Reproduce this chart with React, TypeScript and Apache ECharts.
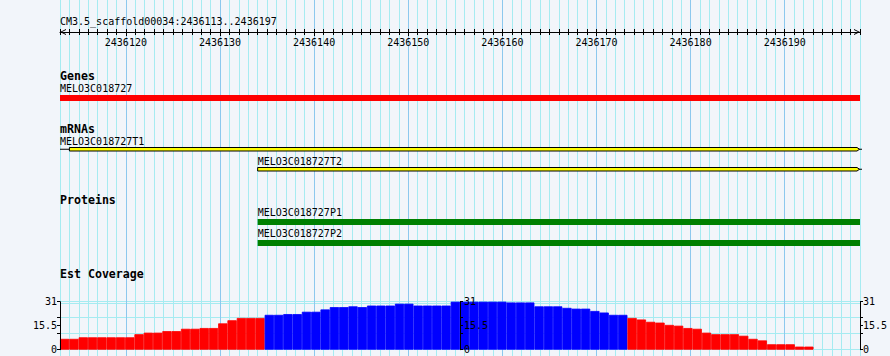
import React, { useEffect, useRef } from "react";
import * as echarts from "echarts";

// ---------------- data ----------------
const scaffoldName = "CM3.5_scaffold00034";
const viewStart = 2436113;
const viewEnd = 2436198; // end of last shown base (2436197)
const majorTicks = [2436120, 2436130, 2436140, 2436150, 2436160, 2436170, 2436180, 2436190];
const trackTitles = ["Genes", "mRNAs", "Proteins", "Est Coverage"];

const geneNames = ["MELO3C018727"];
const geneStarts = [2436113];
const geneEnds = [2436198];

const mrnaNames = ["MELO3C018727T1", "MELO3C018727T2"];
const mrnaStarts = [2436113, 2436134];
const mrnaExonStarts = [2436114, 2436134];
const mrnaEnds = [2436198, 2436198];

const proteinNames = ["MELO3C018727P1", "MELO3C018727P2"];
const proteinStarts = [2436134, 2436134];
const proteinEnds = [2436198, 2436198];

const coverage = [
  7, 7, 8, 8, 8, 8, 8, 8, 10, 11,
  11, 12, 12, 13.5, 13.5, 14, 14, 17, 19, 20.5,
  20.5, 20.5, 22.5, 22.5, 23, 23, 24.5, 24.5, 26, 27.5,
  27.5, 28, 27.5, 28.5, 28.5, 28.5, 29.7, 29.7, 28.5, 28.5,
  28.5, 28.5, 31, 31, 31, 31, 31, 31, 30.5, 30.5,
  30.5, 28, 28, 28, 27, 26.5, 26.5, 25, 24, 22.5,
  22.5, 20.5, 19.5, 18, 17.5, 16, 15.5, 14, 13.5, 11,
  10, 10, 10, 9, 7, 6, 3.5, 3.5, 3.5, 2,
  2, 0, 0, 0, 0, 0,
];
const coverageMax = 31;
const coverageLabelStep = 15.5;
const coverageExtraLine = [29.7];
const cdsBins = [22, 60];

// ---------------- layout / style ----------------
const GRID_LEFT = 60;
const GRID_W = 800;
const FONT = '"DejaVu Sans Mono", monospace';
const BG = "#f2f5fa";
const MINOR = "#a6ebf1";
const MAJOR = "#8cc8ee";
const RED = "#ff0000";
const BLUE = "#0000ff";
const GREEN = "#008000";
const YELLOW = "#ffff00";

const ROW = {
  titleY: 21,
  rulerY: 32,
  headers: [76, 128.7, 200, 274.2],
  geneLabel: [88],
  geneBar: [95],
  geneH: 6,
  mrnaLabel: [141, 161],
  mrnaBar: [147.5, 167.5],
  mrnaH: 3.5,
  protLabel: [212.5, 233.5],
  protBar: [219, 240],
  protH: 6,
  covTop: 301.7,
  covH: 48,
};

const ARROW = "path://M0,10L5,0L10,10L8.4,10L5,3.2L1.6,10Z";
const blackLine = { color: "#000", width: 1 };
const labelText = (text: string, x: number, y: number) => ({
  type: "text",
  x,
  y,
  style: { text, font: `10px ${FONT}`, fill: "#000", align: "left", verticalAlign: "middle" },
});

function buildOption(): any {
  const bpBase = {
    type: "value",
    gridIndex: 0,
    min: viewStart,
    max: viewEnd,
    position: "top",
    offset: -ROW.rulerY,
  };
  const covBase = { type: "value", gridIndex: 1, min: 0, max: coverageMax };
  const covLabel = {
    fontFamily: FONT,
    fontSize: 10,
    color: "#000",
    formatter: (v: number) => String(v),
  };

  return {
    animation: false,
    backgroundColor: BG,
    textStyle: { fontFamily: FONT },
    grid: [
      { left: GRID_LEFT, top: 0, width: GRID_W, height: 356, outerBoundsMode: "none", containLabel: false },
      { left: GRID_LEFT, top: ROW.covTop, width: GRID_W, height: ROW.covH, outerBoundsMode: "none", containLabel: false },
    ],
    xAxis: [
      {
        ...bpBase,
        interval: 1,
        axisLine: {
          show: true,
          onZero: false,
          lineStyle: blackLine,
          symbol: [ARROW, ARROW],
          symbolSize: [6, 6],
          symbolOffset: [3, -3],
        },
        axisTick: { show: true, length: 3, inside: false, lineStyle: blackLine },
        axisLabel: { show: false },
        splitLine: { show: true, lineStyle: { color: MINOR, width: 1 } },
      },
      {
        ...bpBase,
        interval: 1,
        axisLine: { show: false, onZero: false },
        axisTick: { show: true, length: 3, inside: true, lineStyle: blackLine },
        axisLabel: { show: false },
        splitLine: { show: false },
      },
      {
        ...bpBase,
        axisLine: { show: false, onZero: false },
        axisTick: { show: true, length: 4, inside: true, customValues: majorTicks, lineStyle: blackLine },
        axisLabel: {
          show: true,
          inside: true,
          customValues: majorTicks,
          margin: 10,
          verticalAlign: "middle",
          fontFamily: FONT,
          fontSize: 10,
          color: "#000",
          formatter: (v: number) => String(v),
        },
        splitLine: { show: true, lineStyle: { color: MAJOR, width: 1 } },
      },
      {
        type: "category",
        gridIndex: 1,
        show: false,
        boundaryGap: true,
        axisLine: { onZero: false },
        data: coverage.map((_, i) => String(i)),
      },
    ],
    yAxis: [
      { type: "value", gridIndex: 0, min: 0, max: 1, show: false, axisLine: { onZero: false } },
      // left
      {
        ...covBase,
        position: "left",
        offset: 0,
        z: 10,
        interval: coverageLabelStep,
        axisLine: { show: true, onZero: false, lineStyle: blackLine },
        axisTick: { show: true, length: 3, lineStyle: blackLine },
        axisLabel: { ...covLabel, margin: 3 },
        splitLine: { show: false },
      },
      {
        ...covBase,
        position: "left",
        offset: 0,
        interval: coverageMax / 3,
        axisLine: { show: false, onZero: false },
        axisTick: { show: true, length: 3, lineStyle: blackLine },
        axisLabel: { show: false },
        splitLine: { show: true, lineStyle: { color: MINOR, width: 1 } },
      },
      // middle
      {
        ...covBase,
        position: "left",
        offset: -GRID_W / 2,
        z: 10,
        interval: coverageLabelStep,
        axisLine: { show: true, onZero: false, lineStyle: blackLine },
        axisTick: { show: true, inside: true, length: 3, lineStyle: blackLine },
        axisLabel: { ...covLabel, inside: true, margin: 4 },
        splitLine: { show: false },
      },
      {
        ...covBase,
        position: "left",
        offset: -GRID_W / 2,
        z: 10,
        interval: coverageMax / 3,
        axisLine: { show: false, onZero: false },
        axisTick: { show: true, inside: true, length: 3, lineStyle: blackLine },
        axisLabel: { show: false },
        splitLine: { show: false },
      },
      // right
      {
        ...covBase,
        position: "right",
        offset: 0,
        z: 10,
        interval: coverageLabelStep,
        axisLine: { show: true, onZero: false, lineStyle: blackLine },
        axisTick: { show: true, length: 3, lineStyle: blackLine },
        axisLabel: { ...covLabel, margin: 3 },
        splitLine: { show: false },
      },
      {
        ...covBase,
        position: "right",
        offset: 0,
        interval: coverageMax / 3,
        axisLine: { show: false, onZero: false },
        axisTick: { show: true, length: 3, lineStyle: blackLine },
        axisLabel: { show: false },
        splitLine: { show: false },
      },
      // extra top grid line
      {
        ...covBase,
        position: "left",
        offset: 0,
        axisLine: { show: false, onZero: false },
        axisTick: { show: false, customValues: coverageExtraLine },
        axisLabel: { show: false, customValues: coverageExtraLine },
        splitLine: { show: true, lineStyle: { color: MINOR, width: 1 } },
      },
    ],
    graphic: [
      {
        type: "text",
        x: GRID_LEFT,
        y: ROW.titleY,
        z: 100,
        style: {
          text: `${scaffoldName}:${viewStart}..${viewEnd - 1}`,
          font: `10px ${FONT}`,
          fill: "#000",
          verticalAlign: "middle",
        },
      },
      ...trackTitles.map((t, i) => ({
        type: "text",
        x: GRID_LEFT,
        y: ROW.headers[i],
        z: 100,
        style: { text: t, font: `bold 11.6px ${FONT}`, fill: "#000", verticalAlign: "middle" },
      })),
    ],
    series: [
      {
        type: "custom",
        name: "Genes",
        xAxisIndex: 0,
        yAxisIndex: 0,
        clip: false,
        silent: true,
        z: 5,
        data: geneStarts.map((s, i) => [s, geneEnds[i]]),
        renderItem: (params: any, api: any) => {
          const i = params.dataIndex;
          const x0 = api.coord([api.value(0), 0])[0];
          const x1 = api.coord([api.value(1), 0])[0];
          return {
            type: "group",
            children: [
              { type: "rect", shape: { x: x0, y: ROW.geneBar[i], width: x1 - x0, height: ROW.geneH }, style: { fill: RED } },
              labelText(geneNames[i], x0, ROW.geneLabel[i]),
            ],
          };
        },
      },
      {
        type: "custom",
        name: "mRNAs",
        xAxisIndex: 0,
        yAxisIndex: 0,
        clip: false,
        silent: true,
        z: 5,
        data: mrnaStarts.map((s, i) => [s, mrnaExonStarts[i], mrnaEnds[i]]),
        renderItem: (params: any, api: any) => {
          const i = params.dataIndex;
          const xl = api.coord([api.value(0), 0])[0];
          const xs = api.coord([api.value(1), 0])[0];
          const xe = api.coord([api.value(2), 0])[0];
          const y = ROW.mrnaBar[i];
          const h = ROW.mrnaH;
          const mid = y + h / 2;
          const children: any[] = [];
          if (xs > xl) {
            children.push({
              type: "line",
              shape: { x1: xl, y1: mid, x2: xs, y2: mid },
              style: { stroke: "#000", lineWidth: 1 },
            });
          }
          children.push({
            type: "line",
            shape: { x1: xe - 1, y1: mid, x2: xe + 2, y2: mid },
            style: { stroke: "#000", lineWidth: 1 },
          });
          children.push({
            type: "polygon",
            shape: {
              points: [
                [xs, y],
                [xe - 3, y],
                [xe - 0.5, mid],
                [xe - 3, y + h],
                [xs, y + h],
              ],
            },
            style: { fill: YELLOW, stroke: "#000", lineWidth: 1 },
          });
          children.push(labelText(mrnaNames[i], xl, ROW.mrnaLabel[i]));
          return { type: "group", children };
        },
      },
      {
        type: "custom",
        name: "Proteins",
        xAxisIndex: 0,
        yAxisIndex: 0,
        clip: false,
        silent: true,
        z: 5,
        data: proteinStarts.map((s, i) => [s, proteinEnds[i]]),
        renderItem: (params: any, api: any) => {
          const i = params.dataIndex;
          const x0 = api.coord([api.value(0), 0])[0];
          const x1 = api.coord([api.value(1), 0])[0];
          return {
            type: "group",
            children: [
              { type: "rect", shape: { x: x0, y: ROW.protBar[i], width: x1 - x0, height: ROW.protH }, style: { fill: GREEN } },
              labelText(proteinNames[i], x0, ROW.protLabel[i]),
            ],
          };
        },
      },
      {
        type: "bar",
        name: "Est Coverage",
        xAxisIndex: 3,
        yAxisIndex: 1,
        silent: true,
        z: 5,
        barCategoryGap: "0%",
        barGap: "0%",
        data: coverage.map((v, i) => {
          const c = i >= cdsBins[0] && i <= cdsBins[1] ? BLUE : RED;
          return { value: v, itemStyle: { color: c, borderColor: c, borderWidth: v > 0 ? 0.8 : 0 } };
        }),
      },
    ],
  };
}

export default function App() {
  const ref = useRef<HTMLDivElement>(null);
  useEffect(() => {
    document.body.style.margin = "0";
    const chart = echarts.init(ref.current!, null, { renderer: "svg" });
    chart.setOption(buildOption());
    return () => chart.dispose();
  }, []);
  return <div ref={ref} style={{ width: 890, height: 356, background: BG }} />;
}
